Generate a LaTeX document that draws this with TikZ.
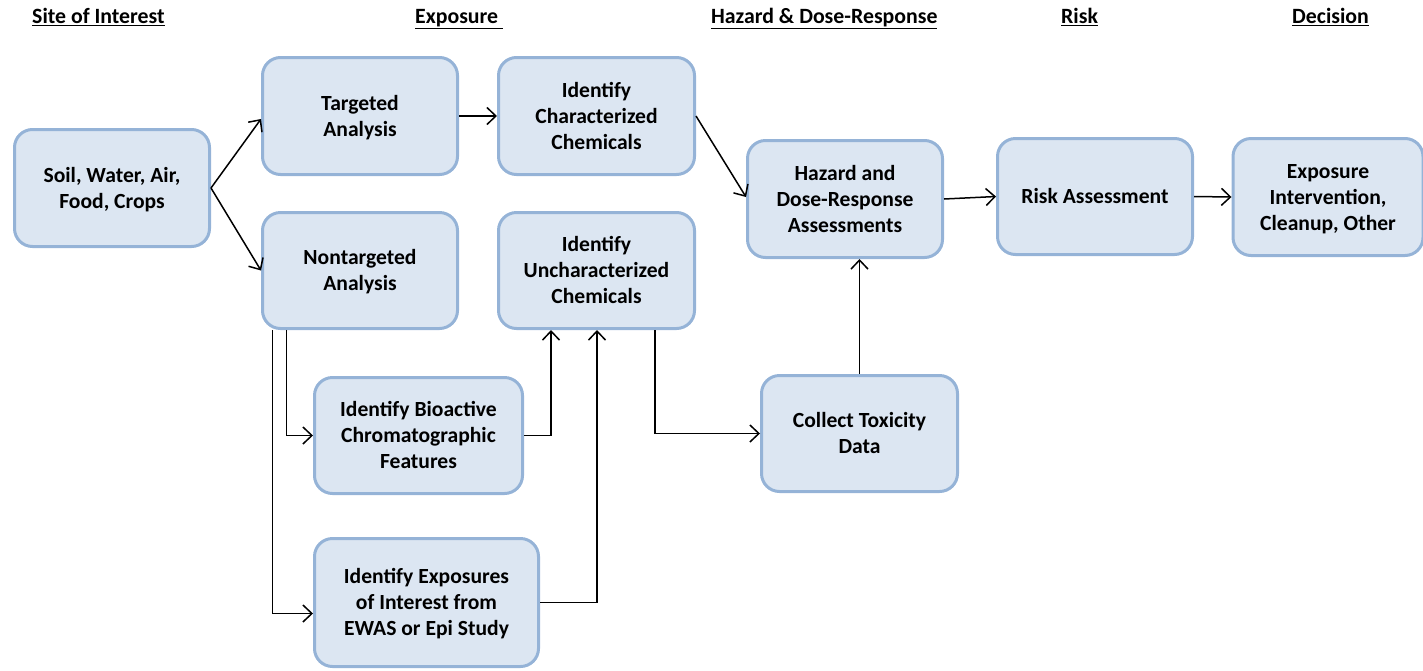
\documentclass[tikz,border=0pt]{standalone}
\usepackage{fontspec}
\setmainfont{Carlito}
\usetikzlibrary{arrows.meta}
\definecolor{boxfill}{HTML}{DCE6F2}
\definecolor{boxline}{HTML}{95B3D7}
\newcommand{\topstrut}{\rule{0pt}{19.7pt}}
\newcommand{\botstrut}{\rule[-5pt]{0pt}{5pt}}
\begin{document}
\begin{tikzpicture}[x=1pt,y=-1pt,
 box/.style={draw=boxline, fill=boxfill, line width=3pt, rounded corners=18pt, align=center, font=\fontsize{21.6}{26}\selectfont\bfseries, inner sep=0pt},
 hdr/.style={anchor=base west, font=\fontsize{21.8}{26}\selectfont\bfseries, inner sep=0pt},
 arr/.style={line width=1.5pt, -{Straight Barb[length=9pt,width=17pt]}},
 ln/.style={line width=1.5pt}]
\useasboundingbox (0,0) rectangle (1423,670);
% headers
\node[hdr] (h1) at (32,23.5) {\underline{Site of Interest}};
\node[hdr] (h2) at (415,23.5) {\underline{Exposure\ }};
\node[hdr] (h3) at (711,23.5) {\underline{Hazard \& Dose-Response}};
\node[hdr] (h4) at (1061,23.5) {\underline{Risk}};
\node[hdr] (h5) at (1292,23.5) {\underline{Decision}};
% boxes
\node[box, minimum width=195pt, minimum height=117pt] (soil) at (112,188) {\topstrut Soil, Water, Air,\\Food, Crops\botstrut};
\node[box, minimum width=195pt, minimum height=117pt] (targ) at (360,116) {\topstrut Targeted\\Analysis\botstrut};
\node[box, minimum width=195pt, minimum height=116pt] (nontarg) at (360,270.5) {\topstrut Nontargeted\\Analysis\botstrut};
\node[box, minimum width=196pt, minimum height=117pt] (char) at (596.5,116) {\topstrut Identify\\Characterized\\Chemicals\botstrut};
\node[box, minimum width=196pt, minimum height=116pt] (unchar) at (596.5,270.5) {\topstrut Identify\\Uncharacterized\\Chemicals\botstrut};
\node[box, minimum width=208pt, minimum height=116pt] (bio) at (418.5,435.5) {\topstrut Identify Bioactive\\Chromatographic\\Features\botstrut};
\node[box, minimum width=224pt, minimum height=128pt] (ewas) at (426.5,602.5) {\topstrut Identify Exposures\\of Interest from\\EWAS or Epi Study\botstrut};
\node[box, minimum width=195pt, minimum height=117pt] (haz) at (845,199) {\topstrut Hazard and\\Dose-Response\\Assessments\botstrut};
\node[box, minimum width=196pt, minimum height=116pt] (tox) at (859.5,433.5) {\topstrut Collect Toxicity\\Data\botstrut};
\node[box, minimum width=195pt, minimum height=116pt] (risk) at (1095,196.5) {\topstrut Risk Assessment\botstrut};
\node[box, minimum width=190pt, minimum height=117pt] (interv) at (1328,197) {\topstrut Exposure\\Intervention,\\Cleanup, Other\botstrut};
% connectors
\draw[arr] (soil.east) -- ([yshift=-3pt]targ.west);
\draw[arr] (soil.east) -- (nontarg.west);
\draw[arr] (targ.east) -- (char.west);
\draw[arr] (char.east) -- ([yshift=2pt]haz.west);
\draw[arr] (haz.east) -- (risk.west);
\draw[arr] (risk.east) -- (interv.west);
\draw[arr] (tox.north) -- (tox.north |- haz.south);
\draw[arr] ([xshift=58.5pt]unchar.south) |- (tox.west);
\draw[arr] ([xshift=25.5pt]nontarg.south west) |- (bio.west);
\draw[arr] ([xshift=11.5pt]nontarg.south west) |- ([yshift=-11pt]ewas.west);
\draw[arr] (bio.east) -| ([xshift=-45.5pt]unchar.south);
\draw[arr] (ewas.east) -| ([xshift=0.5pt]unchar.south);
\end{tikzpicture}
\end{document}
